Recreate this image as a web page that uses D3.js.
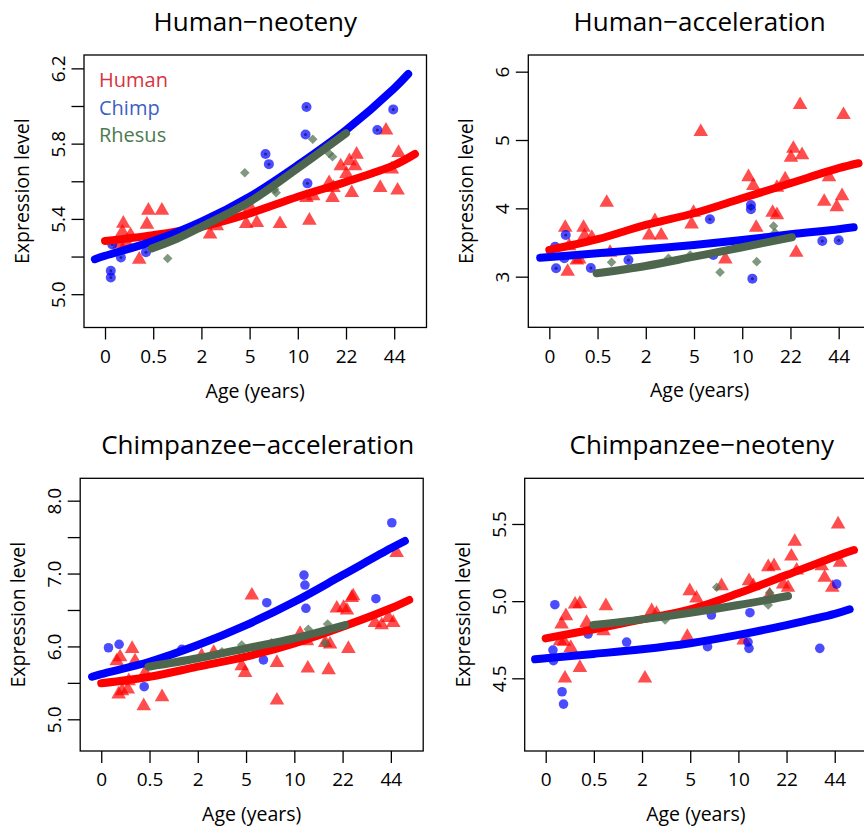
<!DOCTYPE html>
<html><head><meta charset="utf-8">
<script src="https://cdn.jsdelivr.net/npm/d3@7"></script>
<style>body{margin:0;background:#fff}svg{display:block}text{font-family:"Open Sans",sans-serif;fill:#000}</style>
</head><body>
<svg id="c" width="864" height="830"></svg>
<script>
// ---------- DATA ----------
const xTickLabels = ["0","0.5","2","5","10","22","44"];
const titles = ["Human\u2212neoteny","Human\u2212acceleration","Chimpanzee\u2212acceleration","Chimpanzee\u2212neoteny"];
const legendLabels = ["Human","Chimp","Rhesus"];

// y ticks per panel: all tick positions, and labelled ones
const yTicks1 = [5.0,5.2,5.4,5.6,5.8,6.0,6.2], yLabels1 = [5.0,5.4,5.8,6.2];
const yTicks2 = [3,4,5,6], yLabels2 = [3,4,5,6];
const yTicks3 = [5.0,5.5,6.0,6.5,7.0,7.5,8.0], yLabels3 = [5.0,6.0,7.0,8.0];
const yTicks4 = [4.5,5.0,5.5], yLabels4 = [4.5,5.0,5.5];
const yDomains = [[4.823,6.271],[2.259,6.244],[4.565,8.307],[4.029,5.796]];

// Panel 1: Human-neoteny  (x = position on the age axis, 0..6 = tick index)
const p1Human = [[0.38,5.381],[0.36,5.335],[0.53,5.319],[0.30,5.270],[0.45,5.278],[0.90,5.450],[1.18,5.450],[0.87,5.376],[0.71,5.190],[2.18,5.323],[2.32,5.367],[2.93,5.379],[3.15,5.385],[3.63,5.379],[3.01,5.468],[4.24,5.397],[4.18,5.518],[4.32,5.527],[4.65,5.597],[4.72,5.518],[4.74,5.571],[4.89,5.686],[5.01,5.645],[5.07,5.713],[5.22,5.748],[5.19,5.686],[5.12,5.544],[5.71,5.571],[5.83,5.876],[6.09,5.757],[5.95,5.669],[6.07,5.557]];
const p1Chimp = [[0.12,5.124],[0.12,5.089],[0.15,5.264],[0.33,5.195],[0.85,5.223],[3.33,5.745],[3.40,5.691],[4.18,5.995],[4.16,5.849],[4.20,5.589],[5.65,5.872],[5.98,5.982]];
const p1Rhesus = [[1.30,5.190],[2.90,5.645],[3.55,5.539],[3.52,5.557],[4.31,5.823],[4.65,5.748],[4.72,5.730]];
const p1HumanFit = [[0,5.283],[1,5.314],[2,5.358],[3,5.429],[4,5.518],[5,5.597],[6,5.686],[6.43,5.745]];
const p1ChimpFit = [[-0.21,5.186],[0,5.204],[1,5.282],[2,5.385],[3,5.518],[4,5.686],[5,5.872],[6,6.094],[6.29,6.170]];
const p1RhesusFit = [[0.97,5.243],[1.5,5.296],[2,5.358],[3,5.491],[4,5.669],[5,5.855]];

// Panel 2: Human-acceleration
const p2Human = [[0.33,3.732],[0.41,3.464],[0.57,3.255],[0.38,3.088],[0.62,3.269],[0.71,3.732],[0.73,3.611],[0.88,3.586],[1.19,4.098],[1.26,3.366],[2.19,3.830],[2.07,3.620],[2.32,3.620],[2.99,3.952],[2.95,3.782],[3.14,5.133],[3.65,3.269],[4.13,4.474],[4.23,4.343],[4.29,3.732],[4.72,4.318],[4.63,3.952],[4.72,3.918],[4.89,4.440],[5.06,4.889],[5.01,4.757],[5.24,4.796],[5.20,5.529],[5.12,3.366],[5.70,4.113],[5.80,4.474],[5.96,4.035],[6.07,4.196],[6.10,5.382]];
const p2Chimp = [[0.12,3.439],[0.14,3.123],[0.31,3.269],[0.34,3.611],[0.86,3.127],[1.64,3.245],[3.33,3.840],[3.40,3.318],[4.18,4.050],[4.18,3.986],[4.21,2.971],[5.66,3.523],[6.00,3.532]];
const p2Rhesus = [[1.29,3.211],[2.47,3.269],[2.92,3.318],[3.54,3.064],[4.30,3.220],[4.65,3.742],[4.68,3.644]];
const p2HumanFit = [[0,3.391],[1,3.548],[2,3.757],[3,3.928],[4,4.148],[5,4.367],[6,4.587],[6.41,4.660]];
const p2ChimpFit = [[-0.19,3.278],[1,3.342],[2,3.401],[3,3.464],[4,3.537],[5,3.620],[6,3.694],[6.31,3.723]];
const p2RhesusFit = [[0.98,3.049],[2,3.157],[3,3.293],[4,3.430],[5.03,3.577]];

// Panel 3: Chimpanzee-acceleration
const p3Human = [[0.32,5.813],[0.39,5.868],[0.64,5.982],[0.70,5.813],[0.36,5.357],[0.43,5.402],[0.55,5.425],[0.57,5.539],[0.88,5.196],[1.26,5.320],[0.91,5.653],[2.08,5.882],[2.33,5.927],[2.91,5.745],[2.98,5.653],[3.12,6.715],[3.64,5.790],[3.64,5.274],[4.12,6.188],[4.28,5.713],[4.26,6.088],[4.71,5.690],[4.64,6.065],[4.74,6.042],[4.88,6.536],[5.02,6.545],[5.09,6.509],[5.19,6.682],[5.22,6.705],[5.12,5.982],[5.67,6.339],[5.81,6.307],[5.95,6.407],[6.05,6.339],[6.12,7.299]];
const p3Chimp = [[0.15,5.982],[0.37,6.029],[0.89,5.447],[1.67,5.960],[3.43,6.600],[3.36,5.814],[4.20,6.979],[4.22,6.842],[4.24,6.523],[5.69,6.655],[6.02,7.697]];
const p3Rhesus = [[2.50,5.927],[2.91,6.019],[3.53,6.051],[4.29,6.234],[4.69,6.307],[4.64,6.042]];
const p3HumanFit = [[0,5.494],[1,5.584],[2,5.722],[3,5.859],[4,6.042],[5,6.270],[6,6.523],[6.38,6.637]];
const p3ChimpFit = [[-0.19,5.584],[0,5.621],[1,5.790],[2,6.019],[3,6.293],[4,6.613],[5,6.979],[6,7.346],[6.29,7.446]];
const p3RhesusFit = [[0.98,5.722],[2,5.837],[3,5.974],[4,6.111],[5.05,6.293]];

// Panel 4: Chimpanzee-neoteny
const p4Human = [[0.40,4.506],[0.38,4.744],[0.33,4.856],[0.42,4.910],[0.52,4.705],[0.30,4.748],[0.61,4.986],[0.71,4.990],[0.71,4.575],[0.85,4.867],[1.20,4.813],[1.25,4.975],[2.06,4.506],[2.20,4.943],[2.30,4.925],[2.94,4.776],[2.99,5.072],[3.13,5.025],[3.65,5.105],[4.11,4.753],[4.22,5.137],[4.31,5.105],[4.62,5.228],[4.74,5.234],[4.65,5.046],[4.93,5.115],[5.03,5.094],[5.10,5.297],[5.17,5.392],[5.21,5.206],[5.73,5.234],[5.79,5.159],[5.95,5.094],[6.07,5.505],[6.11,5.256]];
const p4Chimp = [[0.19,4.977],[0.15,4.683],[0.16,4.614],[0.34,4.413],[0.37,4.333],[0.88,4.787],[1.68,4.735],[3.36,4.705],[3.44,4.910],[4.20,4.735],[4.22,4.694],[4.24,4.925],[5.69,4.694],[6.04,5.111]];
const p4Rhesus = [[3.55,5.090],[2.48,4.878],[4.62,4.975],[4.65,5.055]];
const p4HumanFit = [[0,4.759],[1,4.818],[2,4.882],[3,4.947],[4,5.051],[5,5.169],[6,5.288],[6.40,5.331]];
const p4ChimpFit = [[-0.22,4.623],[0,4.630],[1,4.658],[2,4.688],[3,4.727],[4,4.781],[5,4.845],[6,4.917],[6.31,4.947]];
const p4RhesusFit = [[0.99,4.845],[2,4.882],[3,4.925],[4,4.975],[5.03,5.033]];

// ---------- LAYOUT / STYLE ----------
const xDomain = [-0.436, 6.67];
const boxes = [
  {l:84,   t:55,    r:426.5, b:327.5, tdx:0},
  {l:528.3,t:55,    r:871,   b:327.3, tdx:0},
  {l:80.2, t:478.3, r:423.2, b:751,   tdx:6},
  {l:524.7,t:478.3, r:867,   b:751,   tdx:6}
];
const panelData = [
  {human:p1Human, chimp:p1Chimp, rhesus:p1Rhesus, hf:p1HumanFit, cf:p1ChimpFit, rf:p1RhesusFit, yt:yTicks1, yl:yLabels1, dot:true,  legend:true},
  {human:p2Human, chimp:p2Chimp, rhesus:p2Rhesus, hf:p2HumanFit, cf:p2ChimpFit, rf:p2RhesusFit, yt:yTicks2, yl:yLabels2, dot:true,  legend:false},
  {human:p3Human, chimp:p3Chimp, rhesus:p3Rhesus, hf:p3HumanFit, cf:p3ChimpFit, rf:p3RhesusFit, yt:yTicks3, yl:yLabels3, dot:false, legend:false},
  {human:p4Human, chimp:p4Chimp, rhesus:p4Rhesus, hf:p4HumanFit, cf:p4ChimpFit, rf:p4RhesusFit, yt:yTicks4, yl:yLabels4, dot:false, legend:false}
];
const col = {human:"#ff0000", chimp:"#0000ff", rhesus:"#4f6f4f", rhesusLine:"#4e654e"};
const legendCol = ["#d9333f","#3c5fc5","#4c7a4c"];

const svg = d3.select("#c");

panelData.forEach((pd, i) => {
  const bx = boxes[i];
  const x = d3.scaleLinear().domain(xDomain).range([bx.l, bx.r]);
  const y = d3.scaleLinear().domain(yDomains[i]).range([bx.b, bx.t]);
  const g = svg.append("g");
  const cx = (bx.l + bx.r) / 2, cy = (bx.t + bx.b) / 2;

  // title
  g.append("text").attr("x", cx + bx.tdx).attr("y", bx.t - 24).attr("text-anchor","middle")
    .style("font-size","26px").text(titles[i]);

  // x axis
  const xa = d3.axisBottom(x).tickValues(d3.range(xTickLabels.length))
    .tickFormat(d => xTickLabels[d]).tickSize(12).tickPadding(10);
  const xg = g.append("g").attr("transform", `translate(0,${bx.b})`).call(xa);
  xg.select(".domain").remove();
  xg.selectAll("line").attr("stroke","#000").attr("stroke-width",1.3);
  xg.selectAll("text").style("font-size","19px").style("font-family","Open Sans").attr("fill","#000");
  g.append("text").attr("x", cx).attr("y", bx.b + 70).attr("text-anchor","middle")
    .style("font-size","19.5px").text("Age (years)");

  // y axis
  const intLabels = i === 1;
  const ya = d3.axisLeft(y).tickValues(pd.yt).tickSize(12.5)
    .tickFormat(d => pd.yl.some(v => Math.abs(v - d) < 1e-9) ? (intLabels ? d3.format("d")(d) : d3.format(".1f")(d)) : "");
  const yg = g.append("g").attr("transform", `translate(${bx.l},0)`).call(ya);
  yg.select(".domain").remove();
  yg.selectAll("line").attr("stroke","#000").attr("stroke-width",1.3);
  yg.selectAll("text").attr("x", null).attr("dy", null)
    .attr("transform", "translate(-19,0) rotate(-90)").attr("text-anchor","middle")
    .style("font-size","19px").style("font-family","Open Sans").attr("fill","#000");
  g.append("text").attr("transform", `translate(${bx.l - 55},${cy}) rotate(-90)`)
    .attr("text-anchor","middle").style("font-size","19.5px").text("Expression level");

  // clip for plot content
  const cid = "clip" + i;
  svg.append("clipPath").attr("id", cid).append("rect")
    .attr("x", bx.l).attr("y", bx.t).attr("width", bx.r - bx.l).attr("height", bx.b - bx.t);
  const pg = g.append("g").attr("clip-path", `url(#${cid})`);

  // points
  const tri = d3.symbol().type(d3.symbolTriangle).size(92);
  const dia = d3.symbol().type(d3.symbolSquare).size(46);
  pg.selectAll(".h").data(pd.human).join("path")
    .attr("d", tri).attr("transform", d => `translate(${x(d[0])},${y(d[1]) + 1})`)
    .attr("fill", col.human).attr("fill-opacity", 0.7);
  pg.selectAll(".r").data(pd.rhesus).join("path")
    .attr("d", dia).attr("transform", d => `translate(${x(d[0])},${y(d[1])}) rotate(45)`)
    .attr("fill", col.rhesus).attr("fill-opacity", 0.72);
  pg.selectAll(".c").data(pd.chimp).join("circle")
    .attr("cx", d => x(d[0])).attr("cy", d => y(d[1])).attr("r", pd.dot ? 5 : 4.8)
    .attr("fill", col.chimp).attr("fill-opacity", 0.7);
  if (pd.dot) {
    pg.selectAll(".cd").data(pd.chimp).join("circle")
      .attr("cx", d => x(d[0])).attr("cy", d => y(d[1])).attr("r", 1.5)
      .attr("fill", "#1a1a8c").attr("fill-opacity", 0.85);
  }

  // fitted lines
  const line = d3.line().x(d => x(d[0])).y(d => y(d[1])).curve(d3.curveCatmullRom.alpha(0.5));
  [[pd.hf, col.human], [pd.cf, col.chimp], [pd.rf, col.rhesusLine]].forEach(([data, c]) => {
    pg.append("path").datum(data).attr("d", line).attr("fill","none")
      .attr("stroke", c).attr("stroke-width", 8).attr("stroke-linecap","round");
  });

  // box
  g.append("rect").attr("x", bx.l).attr("y", bx.t).attr("width", bx.r - bx.l).attr("height", bx.b - bx.t)
    .attr("fill","none").attr("stroke","#000").attr("stroke-width",1.3);

  // legend
  if (pd.legend) {
    legendLabels.forEach((lab, k) => {
      g.append("text").attr("x", bx.l + 15).attr("y", 87 + k * 27.5)
        .style("font-size","20px").style("fill", legendCol[k]).text(lab);
    });
  }
});
</script>
</body></html>
